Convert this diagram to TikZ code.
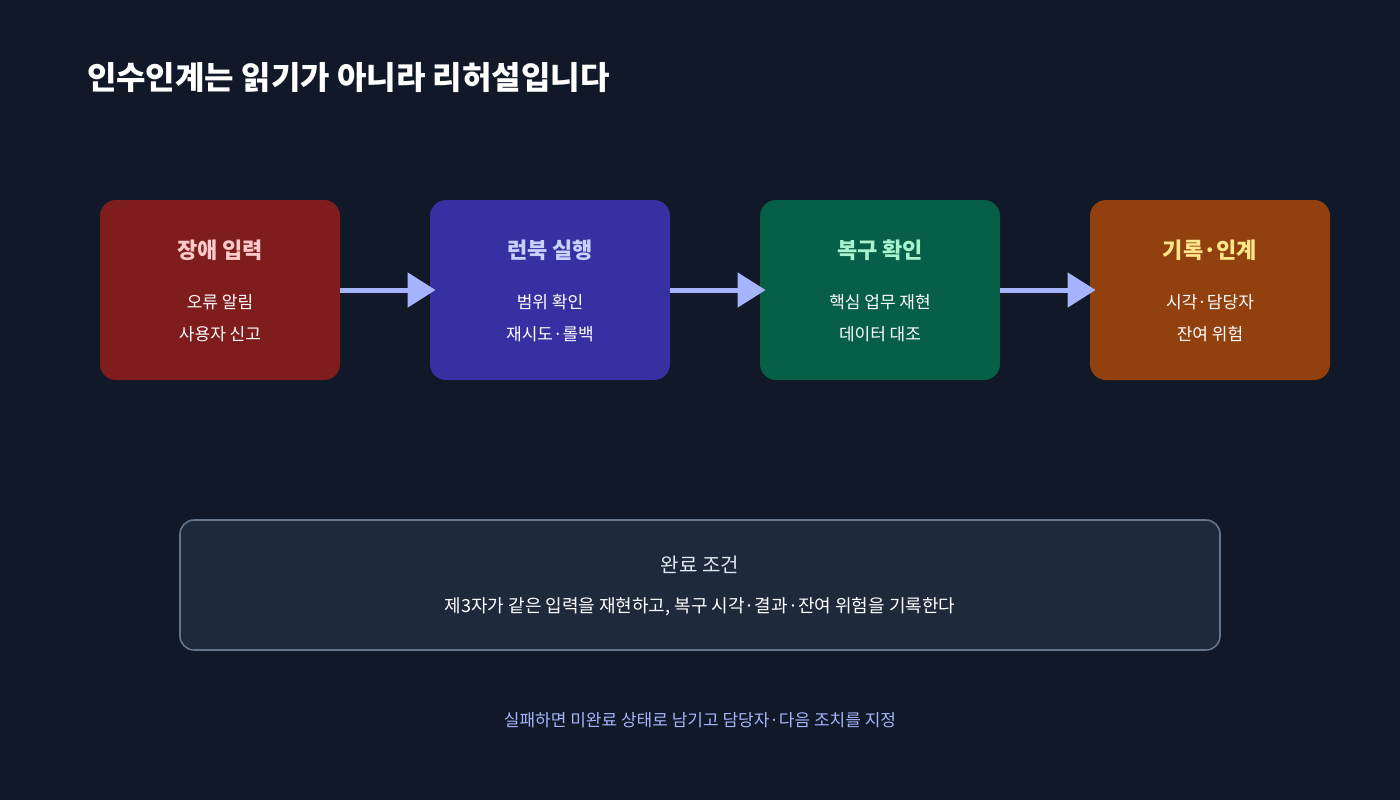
\documentclass[tikz,border=0pt]{standalone}
\usepackage{fontspec}
\setmainfont{Noto Sans CJK KR}
\usetikzlibrary{arrows.meta,positioning}
\definecolor{bgdark}{HTML}{111827}
\definecolor{redbox}{HTML}{7F1D1D}
\definecolor{indigobox}{HTML}{3730A3}
\definecolor{greenbox}{HTML}{065F46}
\definecolor{orangebox}{HTML}{92400E}
\definecolor{redtxt}{HTML}{FECACA}
\definecolor{indigotxt}{HTML}{C7D2FE}
\definecolor{greentxt}{HTML}{A7F3D0}
\definecolor{orangetxt}{HTML}{FDE68A}
\definecolor{arrowblue}{HTML}{A5B4FC}
\definecolor{notefill}{HTML}{1E293B}
\definecolor{noteline}{HTML}{64748B}
\tikzset{
  stagebox/.style={rounded corners=8pt, minimum width=120pt, minimum height=90pt, inner sep=0pt},
  stagetitle/.style={font=\bfseries\fontsize{11}{13}\selectfont},
  stagebody/.style={text=white, align=center, font=\fontsize{8.5}{16}\selectfont},
  flow/.style={arrowblue, line width=2.5pt, -{Triangle[length=14pt,width=17pt]}, shorten >=-3pt},
}
\begin{document}
\begin{tikzpicture}[x=0.5pt,y=-0.5pt]
\fill[bgdark] (0,0) rectangle (1400,800);
\useasboundingbox (0,0) rectangle (1400,800);

% title
\node[anchor=west, text=white, font=\bfseries\fontsize{16}{18}\selectfont] (title) at (80,78) {인수인계는 읽기가 아니라 리허설입니다};

% stages
\node[stagebox, fill=redbox] (input) at (220,290) {};
\node[stagebox, fill=indigobox] (runbook) at (550,290) {};
\node[stagebox, fill=greenbox] (verify) at (880,290) {};
\node[stagebox, fill=orangebox] (record) at (1210,290) {};

\node[stagetitle, text=redtxt] at (220,250) {장애 입력};
\node[stagebody] at (220,318) {오류 알림\\사용자 신고};
\node[stagetitle, text=indigotxt] at (550,250) {런북 실행};
\node[stagebody] at (550,318) {범위 확인\\재시도·롤백};
\node[stagetitle, text=greentxt] at (880,250) {복구 확인};
\node[stagebody] at (880,318) {핵심 업무 재현\\데이터 대조};
\node[stagetitle, text=orangetxt] at (1210,250) {기록·인계};
\node[stagebody] at (1210,318) {시각·담당자\\잔여 위험};

\draw[flow] (input) -- (runbook);
\draw[flow] (runbook) -- (verify);
\draw[flow] (verify) -- (record);

% done condition
\node[draw=noteline, fill=notefill, line width=0.8pt, rounded corners=7pt, minimum width=520pt, minimum height=65pt] (done) at (700,585) {};
\node[text={rgb,255:red,226;green,232;blue,240}, font=\fontsize{10}{12}\selectfont] at (700,565) {완료 조건};
\node[text=white, font=\fontsize{9}{11}\selectfont] at (700,607) {제3자가 같은 입력을 재현하고, 복구 시각·결과·잔여 위험을 기록한다};

\node[text=arrowblue, font=\fontsize{8.5}{10}\selectfont] (fail) at (700,720) {실패하면 미완료 상태로 남기고 담당자·다음 조치를 지정};
\end{tikzpicture}
\end{document}
